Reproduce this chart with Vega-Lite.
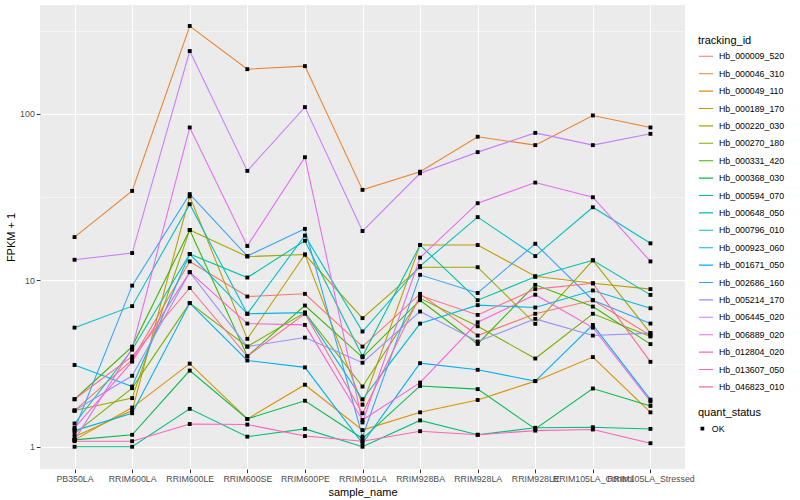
{
  "$schema": "https://vega.github.io/schema/vega-lite/v6.json",
  "width": 645,
  "height": 464,
  "autosize": "none",
  "padding": {"left": 40, "top": 5, "right": 115, "bottom": 31},
  "background": "white",
  "config": {
    "font": "Liberation Sans",
    "view": {"fill": "#EBEBEB", "stroke": null},
    "axis": {"domain": false, "gridColor": "white", "tickColor": "#333333", "tickSize": 3.7, "labelColor": "#4D4D4D", "labelFontSize": 8.8, "titleFontSize": 11, "titleFontWeight": "normal", "titleColor": "black", "labelPadding": 2}
  },
  "datasets": {
    "d": [
      {"id":"Hb_000009_520","sample":"PB350LA","fpkm":1.65,"status":"OK"},
      {"id":"Hb_000009_520","sample":"RRIM600LA","fpkm":3.33,"status":"OK"},
      {"id":"Hb_000009_520","sample":"RRIM600LE","fpkm":13.0,"status":"OK"},
      {"id":"Hb_000009_520","sample":"RRIM600SE","fpkm":8.0,"status":"OK"},
      {"id":"Hb_000009_520","sample":"RRIM600PE","fpkm":8.3,"status":"OK"},
      {"id":"Hb_000009_520","sample":"RRIM901LA","fpkm":4.0,"status":"OK"},
      {"id":"Hb_000009_520","sample":"RRIM928BA","fpkm":8.3,"status":"OK"},
      {"id":"Hb_000009_520","sample":"RRIM928LA","fpkm":4.66,"status":"OK"},
      {"id":"Hb_000009_520","sample":"RRIM928LE","fpkm":6.3,"status":"OK"},
      {"id":"Hb_000009_520","sample":"RRIM105LA_Control","fpkm":7.6,"status":"OK"},
      {"id":"Hb_000009_520","sample":"RRIM105LA_Stressed","fpkm":4.66,"status":"OK"},

      {"id":"Hb_000046_310","sample":"PB350LA","fpkm":18.2,"status":"OK"},
      {"id":"Hb_000046_310","sample":"RRIM600LA","fpkm":34.5,"status":"OK"},
      {"id":"Hb_000046_310","sample":"RRIM600LE","fpkm":338,"status":"OK"},
      {"id":"Hb_000046_310","sample":"RRIM600SE","fpkm":186,"status":"OK"},
      {"id":"Hb_000046_310","sample":"RRIM600PE","fpkm":194,"status":"OK"},
      {"id":"Hb_000046_310","sample":"RRIM901LA","fpkm":35,"status":"OK"},
      {"id":"Hb_000046_310","sample":"RRIM928BA","fpkm":45,"status":"OK"},
      {"id":"Hb_000046_310","sample":"RRIM928LA","fpkm":73,"status":"OK"},
      {"id":"Hb_000046_310","sample":"RRIM928LE","fpkm":65,"status":"OK"},
      {"id":"Hb_000046_310","sample":"RRIM105LA_Control","fpkm":98,"status":"OK"},
      {"id":"Hb_000046_310","sample":"RRIM105LA_Stressed","fpkm":83,"status":"OK"},

      {"id":"Hb_000049_110","sample":"PB350LA","fpkm":1.1,"status":"OK"},
      {"id":"Hb_000049_110","sample":"RRIM600LA","fpkm":1.72,"status":"OK"},
      {"id":"Hb_000049_110","sample":"RRIM600LE","fpkm":3.16,"status":"OK"},
      {"id":"Hb_000049_110","sample":"RRIM600SE","fpkm":1.47,"status":"OK"},
      {"id":"Hb_000049_110","sample":"RRIM600PE","fpkm":2.36,"status":"OK"},
      {"id":"Hb_000049_110","sample":"RRIM901LA","fpkm":1.26,"status":"OK"},
      {"id":"Hb_000049_110","sample":"RRIM928BA","fpkm":1.61,"status":"OK"},
      {"id":"Hb_000049_110","sample":"RRIM928LA","fpkm":1.91,"status":"OK"},
      {"id":"Hb_000049_110","sample":"RRIM928LE","fpkm":2.48,"status":"OK"},
      {"id":"Hb_000049_110","sample":"RRIM105LA_Control","fpkm":3.46,"status":"OK"},
      {"id":"Hb_000049_110","sample":"RRIM105LA_Stressed","fpkm":1.61,"status":"OK"},

      {"id":"Hb_000189_170","sample":"PB350LA","fpkm":1.15,"status":"OK"},
      {"id":"Hb_000189_170","sample":"RRIM600LA","fpkm":1.65,"status":"OK"},
      {"id":"Hb_000189_170","sample":"RRIM600LE","fpkm":32,"status":"OK"},
      {"id":"Hb_000189_170","sample":"RRIM600SE","fpkm":4.45,"status":"OK"},
      {"id":"Hb_000189_170","sample":"RRIM600PE","fpkm":14.3,"status":"OK"},
      {"id":"Hb_000189_170","sample":"RRIM901LA","fpkm":1.79,"status":"OK"},
      {"id":"Hb_000189_170","sample":"RRIM928BA","fpkm":16.3,"status":"OK"},
      {"id":"Hb_000189_170","sample":"RRIM928LA","fpkm":16.3,"status":"OK"},
      {"id":"Hb_000189_170","sample":"RRIM928LE","fpkm":10.6,"status":"OK"},
      {"id":"Hb_000189_170","sample":"RRIM105LA_Control","fpkm":9.6,"status":"OK"},
      {"id":"Hb_000189_170","sample":"RRIM105LA_Stressed","fpkm":8.86,"status":"OK"},

      {"id":"Hb_000220_030","sample":"PB350LA","fpkm":1.65,"status":"OK"},
      {"id":"Hb_000220_030","sample":"RRIM600LA","fpkm":1.96,"status":"OK"},
      {"id":"Hb_000220_030","sample":"RRIM600LE","fpkm":20.1,"status":"OK"},
      {"id":"Hb_000220_030","sample":"RRIM600SE","fpkm":13.9,"status":"OK"},
      {"id":"Hb_000220_030","sample":"RRIM600PE","fpkm":14.3,"status":"OK"},
      {"id":"Hb_000220_030","sample":"RRIM901LA","fpkm":5.93,"status":"OK"},
      {"id":"Hb_000220_030","sample":"RRIM928BA","fpkm":12.0,"status":"OK"},
      {"id":"Hb_000220_030","sample":"RRIM928LA","fpkm":12.0,"status":"OK"},
      {"id":"Hb_000220_030","sample":"RRIM928LE","fpkm":5.48,"status":"OK"},
      {"id":"Hb_000220_030","sample":"RRIM105LA_Control","fpkm":13.2,"status":"OK"},
      {"id":"Hb_000220_030","sample":"RRIM105LA_Stressed","fpkm":4.82,"status":"OK"},

      {"id":"Hb_000270_180","sample":"PB350LA","fpkm":1.2,"status":"OK"},
      {"id":"Hb_000270_180","sample":"RRIM600LA","fpkm":2.25,"status":"OK"},
      {"id":"Hb_000270_180","sample":"RRIM600LE","fpkm":7.3,"status":"OK"},
      {"id":"Hb_000270_180","sample":"RRIM600SE","fpkm":4.0,"status":"OK"},
      {"id":"Hb_000270_180","sample":"RRIM600PE","fpkm":6.4,"status":"OK"},
      {"id":"Hb_000270_180","sample":"RRIM901LA","fpkm":2.3,"status":"OK"},
      {"id":"Hb_000270_180","sample":"RRIM928BA","fpkm":7.8,"status":"OK"},
      {"id":"Hb_000270_180","sample":"RRIM928LA","fpkm":5.3,"status":"OK"},
      {"id":"Hb_000270_180","sample":"RRIM928LE","fpkm":3.39,"status":"OK"},
      {"id":"Hb_000270_180","sample":"RRIM105LA_Control","fpkm":6.3,"status":"OK"},
      {"id":"Hb_000270_180","sample":"RRIM105LA_Stressed","fpkm":4.6,"status":"OK"},

      {"id":"Hb_000331_420","sample":"PB350LA","fpkm":1.93,"status":"OK"},
      {"id":"Hb_000331_420","sample":"RRIM600LA","fpkm":4.0,"status":"OK"},
      {"id":"Hb_000331_420","sample":"RRIM600LE","fpkm":20.1,"status":"OK"},
      {"id":"Hb_000331_420","sample":"RRIM600SE","fpkm":3.5,"status":"OK"},
      {"id":"Hb_000331_420","sample":"RRIM600PE","fpkm":7.06,"status":"OK"},
      {"id":"Hb_000331_420","sample":"RRIM901LA","fpkm":3.45,"status":"OK"},
      {"id":"Hb_000331_420","sample":"RRIM928BA","fpkm":7.6,"status":"OK"},
      {"id":"Hb_000331_420","sample":"RRIM928LA","fpkm":4.15,"status":"OK"},
      {"id":"Hb_000331_420","sample":"RRIM928LE","fpkm":9.4,"status":"OK"},
      {"id":"Hb_000331_420","sample":"RRIM105LA_Control","fpkm":6.96,"status":"OK"},
      {"id":"Hb_000331_420","sample":"RRIM105LA_Stressed","fpkm":4.14,"status":"OK"},

      {"id":"Hb_000368_030","sample":"PB350LA","fpkm":1.1,"status":"OK"},
      {"id":"Hb_000368_030","sample":"RRIM600LA","fpkm":1.18,"status":"OK"},
      {"id":"Hb_000368_030","sample":"RRIM600LE","fpkm":2.87,"status":"OK"},
      {"id":"Hb_000368_030","sample":"RRIM600SE","fpkm":1.47,"status":"OK"},
      {"id":"Hb_000368_030","sample":"RRIM600PE","fpkm":1.89,"status":"OK"},
      {"id":"Hb_000368_030","sample":"RRIM901LA","fpkm":1.12,"status":"OK"},
      {"id":"Hb_000368_030","sample":"RRIM928BA","fpkm":2.32,"status":"OK"},
      {"id":"Hb_000368_030","sample":"RRIM928LA","fpkm":2.22,"status":"OK"},
      {"id":"Hb_000368_030","sample":"RRIM928LE","fpkm":1.28,"status":"OK"},
      {"id":"Hb_000368_030","sample":"RRIM105LA_Control","fpkm":2.24,"status":"OK"},
      {"id":"Hb_000368_030","sample":"RRIM105LA_Stressed","fpkm":1.76,"status":"OK"},

      {"id":"Hb_000594_070","sample":"PB350LA","fpkm":1.0,"status":"OK"},
      {"id":"Hb_000594_070","sample":"RRIM600LA","fpkm":1.0,"status":"OK"},
      {"id":"Hb_000594_070","sample":"RRIM600LE","fpkm":1.69,"status":"OK"},
      {"id":"Hb_000594_070","sample":"RRIM600SE","fpkm":1.15,"status":"OK"},
      {"id":"Hb_000594_070","sample":"RRIM600PE","fpkm":1.28,"status":"OK"},
      {"id":"Hb_000594_070","sample":"RRIM901LA","fpkm":1.0,"status":"OK"},
      {"id":"Hb_000594_070","sample":"RRIM928BA","fpkm":1.44,"status":"OK"},
      {"id":"Hb_000594_070","sample":"RRIM928LA","fpkm":1.18,"status":"OK"},
      {"id":"Hb_000594_070","sample":"RRIM928LE","fpkm":1.3,"status":"OK"},
      {"id":"Hb_000594_070","sample":"RRIM105LA_Control","fpkm":1.31,"status":"OK"},
      {"id":"Hb_000594_070","sample":"RRIM105LA_Stressed","fpkm":1.28,"status":"OK"},

      {"id":"Hb_000648_050","sample":"PB350LA","fpkm":1.38,"status":"OK"},
      {"id":"Hb_000648_050","sample":"RRIM600LA","fpkm":3.83,"status":"OK"},
      {"id":"Hb_000648_050","sample":"RRIM600LE","fpkm":14.4,"status":"OK"},
      {"id":"Hb_000648_050","sample":"RRIM600SE","fpkm":10.4,"status":"OK"},
      {"id":"Hb_000648_050","sample":"RRIM600PE","fpkm":17.3,"status":"OK"},
      {"id":"Hb_000648_050","sample":"RRIM901LA","fpkm":3.5,"status":"OK"},
      {"id":"Hb_000648_050","sample":"RRIM928BA","fpkm":16.3,"status":"OK"},
      {"id":"Hb_000648_050","sample":"RRIM928LA","fpkm":7.6,"status":"OK"},
      {"id":"Hb_000648_050","sample":"RRIM928LE","fpkm":10.5,"status":"OK"},
      {"id":"Hb_000648_050","sample":"RRIM105LA_Control","fpkm":13.2,"status":"OK"},
      {"id":"Hb_000648_050","sample":"RRIM105LA_Stressed","fpkm":8.18,"status":"OK"},

      {"id":"Hb_000796_010","sample":"PB350LA","fpkm":5.2,"status":"OK"},
      {"id":"Hb_000796_010","sample":"RRIM600LA","fpkm":7.0,"status":"OK"},
      {"id":"Hb_000796_010","sample":"RRIM600LE","fpkm":28.7,"status":"OK"},
      {"id":"Hb_000796_010","sample":"RRIM600SE","fpkm":6.3,"status":"OK"},
      {"id":"Hb_000796_010","sample":"RRIM600PE","fpkm":18.6,"status":"OK"},
      {"id":"Hb_000796_010","sample":"RRIM901LA","fpkm":4.93,"status":"OK"},
      {"id":"Hb_000796_010","sample":"RRIM928BA","fpkm":12.2,"status":"OK"},
      {"id":"Hb_000796_010","sample":"RRIM928LA","fpkm":24,"status":"OK"},
      {"id":"Hb_000796_010","sample":"RRIM928LE","fpkm":14,"status":"OK"},
      {"id":"Hb_000796_010","sample":"RRIM105LA_Control","fpkm":27.5,"status":"OK"},
      {"id":"Hb_000796_010","sample":"RRIM105LA_Stressed","fpkm":16.7,"status":"OK"},

      {"id":"Hb_000923_060","sample":"PB350LA","fpkm":3.1,"status":"OK"},
      {"id":"Hb_000923_060","sample":"RRIM600LA","fpkm":2.3,"status":"OK"},
      {"id":"Hb_000923_060","sample":"RRIM600LE","fpkm":14.4,"status":"OK"},
      {"id":"Hb_000923_060","sample":"RRIM600SE","fpkm":6.3,"status":"OK"},
      {"id":"Hb_000923_060","sample":"RRIM600PE","fpkm":6.4,"status":"OK"},
      {"id":"Hb_000923_060","sample":"RRIM901LA","fpkm":1.93,"status":"OK"},
      {"id":"Hb_000923_060","sample":"RRIM928BA","fpkm":5.5,"status":"OK"},
      {"id":"Hb_000923_060","sample":"RRIM928LA","fpkm":7.1,"status":"OK"},
      {"id":"Hb_000923_060","sample":"RRIM928LE","fpkm":6.87,"status":"OK"},
      {"id":"Hb_000923_060","sample":"RRIM105LA_Control","fpkm":8.7,"status":"OK"},
      {"id":"Hb_000923_060","sample":"RRIM105LA_Stressed","fpkm":6.8,"status":"OK"},

      {"id":"Hb_001671_050","sample":"PB350LA","fpkm":1.25,"status":"OK"},
      {"id":"Hb_001671_050","sample":"RRIM600LA","fpkm":1.59,"status":"OK"},
      {"id":"Hb_001671_050","sample":"RRIM600LE","fpkm":7.3,"status":"OK"},
      {"id":"Hb_001671_050","sample":"RRIM600SE","fpkm":3.3,"status":"OK"},
      {"id":"Hb_001671_050","sample":"RRIM600PE","fpkm":3.0,"status":"OK"},
      {"id":"Hb_001671_050","sample":"RRIM901LA","fpkm":1.05,"status":"OK"},
      {"id":"Hb_001671_050","sample":"RRIM928BA","fpkm":3.18,"status":"OK"},
      {"id":"Hb_001671_050","sample":"RRIM928LA","fpkm":2.9,"status":"OK"},
      {"id":"Hb_001671_050","sample":"RRIM928LE","fpkm":2.48,"status":"OK"},
      {"id":"Hb_001671_050","sample":"RRIM105LA_Control","fpkm":5.4,"status":"OK"},
      {"id":"Hb_001671_050","sample":"RRIM105LA_Stressed","fpkm":1.92,"status":"OK"},

      {"id":"Hb_002686_160","sample":"PB350LA","fpkm":1.27,"status":"OK"},
      {"id":"Hb_002686_160","sample":"RRIM600LA","fpkm":9.3,"status":"OK"},
      {"id":"Hb_002686_160","sample":"RRIM600LE","fpkm":33,"status":"OK"},
      {"id":"Hb_002686_160","sample":"RRIM600SE","fpkm":14,"status":"OK"},
      {"id":"Hb_002686_160","sample":"RRIM600PE","fpkm":20.4,"status":"OK"},
      {"id":"Hb_002686_160","sample":"RRIM901LA","fpkm":1.15,"status":"OK"},
      {"id":"Hb_002686_160","sample":"RRIM928BA","fpkm":10.8,"status":"OK"},
      {"id":"Hb_002686_160","sample":"RRIM928LA","fpkm":8.4,"status":"OK"},
      {"id":"Hb_002686_160","sample":"RRIM928LE","fpkm":16.6,"status":"OK"},
      {"id":"Hb_002686_160","sample":"RRIM105LA_Control","fpkm":7.6,"status":"OK"},
      {"id":"Hb_002686_160","sample":"RRIM105LA_Stressed","fpkm":5.5,"status":"OK"},

      {"id":"Hb_005214_170","sample":"PB350LA","fpkm":1.65,"status":"OK"},
      {"id":"Hb_005214_170","sample":"RRIM600LA","fpkm":2.67,"status":"OK"},
      {"id":"Hb_005214_170","sample":"RRIM600LE","fpkm":11.2,"status":"OK"},
      {"id":"Hb_005214_170","sample":"RRIM600SE","fpkm":4.0,"status":"OK"},
      {"id":"Hb_005214_170","sample":"RRIM600PE","fpkm":4.53,"status":"OK"},
      {"id":"Hb_005214_170","sample":"RRIM901LA","fpkm":3.2,"status":"OK"},
      {"id":"Hb_005214_170","sample":"RRIM928BA","fpkm":6.5,"status":"OK"},
      {"id":"Hb_005214_170","sample":"RRIM928LA","fpkm":4.29,"status":"OK"},
      {"id":"Hb_005214_170","sample":"RRIM928LE","fpkm":5.87,"status":"OK"},
      {"id":"Hb_005214_170","sample":"RRIM105LA_Control","fpkm":4.66,"status":"OK"},
      {"id":"Hb_005214_170","sample":"RRIM105LA_Stressed","fpkm":4.82,"status":"OK"},

      {"id":"Hb_006445_020","sample":"PB350LA","fpkm":13.3,"status":"OK"},
      {"id":"Hb_006445_020","sample":"RRIM600LA","fpkm":14.6,"status":"OK"},
      {"id":"Hb_006445_020","sample":"RRIM600LE","fpkm":239,"status":"OK"},
      {"id":"Hb_006445_020","sample":"RRIM600SE","fpkm":45.5,"status":"OK"},
      {"id":"Hb_006445_020","sample":"RRIM600PE","fpkm":110,"status":"OK"},
      {"id":"Hb_006445_020","sample":"RRIM901LA","fpkm":19.8,"status":"OK"},
      {"id":"Hb_006445_020","sample":"RRIM928BA","fpkm":44,"status":"OK"},
      {"id":"Hb_006445_020","sample":"RRIM928LA","fpkm":59,"status":"OK"},
      {"id":"Hb_006445_020","sample":"RRIM928LE","fpkm":77,"status":"OK"},
      {"id":"Hb_006445_020","sample":"RRIM105LA_Control","fpkm":65,"status":"OK"},
      {"id":"Hb_006445_020","sample":"RRIM105LA_Stressed","fpkm":76,"status":"OK"},

      {"id":"Hb_006889_020","sample":"PB350LA","fpkm":1.1,"status":"OK"},
      {"id":"Hb_006889_020","sample":"RRIM600LA","fpkm":3.9,"status":"OK"},
      {"id":"Hb_006889_020","sample":"RRIM600LE","fpkm":83,"status":"OK"},
      {"id":"Hb_006889_020","sample":"RRIM600SE","fpkm":16.1,"status":"OK"},
      {"id":"Hb_006889_020","sample":"RRIM600PE","fpkm":55,"status":"OK"},
      {"id":"Hb_006889_020","sample":"RRIM901LA","fpkm":1.4,"status":"OK"},
      {"id":"Hb_006889_020","sample":"RRIM928BA","fpkm":13.7,"status":"OK"},
      {"id":"Hb_006889_020","sample":"RRIM928LA","fpkm":29.1,"status":"OK"},
      {"id":"Hb_006889_020","sample":"RRIM928LE","fpkm":38.7,"status":"OK"},
      {"id":"Hb_006889_020","sample":"RRIM105LA_Control","fpkm":31.6,"status":"OK"},
      {"id":"Hb_006889_020","sample":"RRIM105LA_Stressed","fpkm":13.0,"status":"OK"},

      {"id":"Hb_012804_020","sample":"PB350LA","fpkm":1.3,"status":"OK"},
      {"id":"Hb_012804_020","sample":"RRIM600LA","fpkm":3.25,"status":"OK"},
      {"id":"Hb_012804_020","sample":"RRIM600LE","fpkm":11.2,"status":"OK"},
      {"id":"Hb_012804_020","sample":"RRIM600SE","fpkm":5.5,"status":"OK"},
      {"id":"Hb_012804_020","sample":"RRIM600PE","fpkm":5.4,"status":"OK"},
      {"id":"Hb_012804_020","sample":"RRIM901LA","fpkm":1.45,"status":"OK"},
      {"id":"Hb_012804_020","sample":"RRIM928BA","fpkm":2.43,"status":"OK"},
      {"id":"Hb_012804_020","sample":"RRIM928LA","fpkm":5.6,"status":"OK"},
      {"id":"Hb_012804_020","sample":"RRIM928LE","fpkm":8.2,"status":"OK"},
      {"id":"Hb_012804_020","sample":"RRIM105LA_Control","fpkm":5.2,"status":"OK"},
      {"id":"Hb_012804_020","sample":"RRIM105LA_Stressed","fpkm":1.87,"status":"OK"},

      {"id":"Hb_013607_050","sample":"PB350LA","fpkm":1.08,"status":"OK"},
      {"id":"Hb_013607_050","sample":"RRIM600LA","fpkm":1.08,"status":"OK"},
      {"id":"Hb_013607_050","sample":"RRIM600LE","fpkm":1.37,"status":"OK"},
      {"id":"Hb_013607_050","sample":"RRIM600SE","fpkm":1.36,"status":"OK"},
      {"id":"Hb_013607_050","sample":"RRIM600PE","fpkm":1.16,"status":"OK"},
      {"id":"Hb_013607_050","sample":"RRIM901LA","fpkm":1.08,"status":"OK"},
      {"id":"Hb_013607_050","sample":"RRIM928BA","fpkm":1.24,"status":"OK"},
      {"id":"Hb_013607_050","sample":"RRIM928LA","fpkm":1.18,"status":"OK"},
      {"id":"Hb_013607_050","sample":"RRIM928LE","fpkm":1.25,"status":"OK"},
      {"id":"Hb_013607_050","sample":"RRIM105LA_Control","fpkm":1.27,"status":"OK"},
      {"id":"Hb_013607_050","sample":"RRIM105LA_Stressed","fpkm":1.05,"status":"OK"},

      {"id":"Hb_046823_010","sample":"PB350LA","fpkm":1.93,"status":"OK"},
      {"id":"Hb_046823_010","sample":"RRIM600LA","fpkm":3.49,"status":"OK"},
      {"id":"Hb_046823_010","sample":"RRIM600LE","fpkm":9.0,"status":"OK"},
      {"id":"Hb_046823_010","sample":"RRIM600SE","fpkm":3.5,"status":"OK"},
      {"id":"Hb_046823_010","sample":"RRIM600PE","fpkm":6.3,"status":"OK"},
      {"id":"Hb_046823_010","sample":"RRIM901LA","fpkm":1.59,"status":"OK"},
      {"id":"Hb_046823_010","sample":"RRIM928BA","fpkm":8.1,"status":"OK"},
      {"id":"Hb_046823_010","sample":"RRIM928LA","fpkm":6.2,"status":"OK"},
      {"id":"Hb_046823_010","sample":"RRIM928LE","fpkm":8.86,"status":"OK"},
      {"id":"Hb_046823_010","sample":"RRIM105LA_Control","fpkm":9.6,"status":"OK"},
      {"id":"Hb_046823_010","sample":"RRIM105LA_Stressed","fpkm":3.24,"status":"OK"}
    ]
  },
  "data": {"name": "d"},
  "encoding": {
    "x": {
      "field": "sample", "type": "nominal",
      "sort": ["PB350LA","RRIM600LA","RRIM600LE","RRIM600SE","RRIM600PE","RRIM901LA","RRIM928BA","RRIM928LA","RRIM928LE","RRIM105LA_Control","RRIM105LA_Stressed"],
      "scale": {"type": "point", "padding": 0.6},
      "axis": {"title": "sample_name", "labelAngle": 0, "labelOverlap": false, "grid": true, "gridWidth": 1.07, "titlePadding": 3, "labelPadding": 2}
    },
    "y": {
      "field": "fpkm", "type": "quantitative",
      "scale": {"type": "log", "domain": [0.735, 452], "nice": false, "zero": false},
      "axis": {
        "title": "FPKM + 1",
        "values": [1, 3.1623, 10, 31.623, 100, 316.23],
        "labelExpr": "datum.value == 1 ? '1' : datum.value == 10 ? '10' : datum.value == 100 ? '100' : ''",
        "grid": true,
        "gridWidth": {"condition": {"test": "datum.value == 1 || datum.value == 10 || datum.value == 100", "value": 1.07}, "value": 0.53},
        "tickOpacity": {"condition": {"test": "datum.value == 1 || datum.value == 10 || datum.value == 100", "value": 1}, "value": 0},
        "titlePadding": 3
      }
    }
  },
  "layer": [
    {
      "mark": {"type": "line", "strokeWidth": 1.07},
      "encoding": {
        "color": {
          "field": "id", "type": "nominal",
          "scale": {
            "domain": ["Hb_000009_520","Hb_000046_310","Hb_000049_110","Hb_000189_170","Hb_000220_030","Hb_000270_180","Hb_000331_420","Hb_000368_030","Hb_000594_070","Hb_000648_050","Hb_000796_010","Hb_000923_060","Hb_001671_050","Hb_002686_160","Hb_005214_170","Hb_006445_020","Hb_006889_020","Hb_012804_020","Hb_013607_050","Hb_046823_010"],
            "range": ["#F8766D","#EA8331","#D89000","#C09B00","#A3A500","#7CAE00","#39B600","#00BB4E","#00BF7D","#00C1A3","#00BFC4","#00BAE0","#00B0F6","#35A2FF","#9590FF","#C77CFF","#E76BF3","#FA62DB","#FF62BC","#FF6C91"]
          },
          "legend": {
            "title": "tracking_id", "orient": "none", "legendX": 658, "legendY": 30,
            "symbolType": "stroke", "symbolSize": 200, "symbolStrokeWidth": 1.1,
            "labelFontSize": 8.8, "labelColor": "black", "titleFontSize": 11, "titleFontWeight": "normal", "titleColor": "black",
            "clipHeight": 14.6, "rowPadding": 2.4, "labelOffset": 5, "titlePadding": 3, "padding": 0
          }
        }
      }
    },
    {
      "mark": {"type": "point", "filled": true, "color": "black", "opacity": 1, "size": 15},
      "encoding": {
        "shape": {
          "field": "status", "type": "nominal",
          "scale": {"range": ["square"]},
          "legend": {
            "title": "quant_status", "orient": "none", "legendX": 658, "legendY": 402,
            "symbolSize": 14, "symbolFillColor": "black",
            "labelFontSize": 8.8, "labelColor": "black", "titleFontSize": 11, "titleFontWeight": "normal", "titleColor": "black",
            "clipHeight": 15.28, "labelOffset": 5, "titlePadding": 3, "padding": 0
          }
        }
      }
    }
  ]
}
